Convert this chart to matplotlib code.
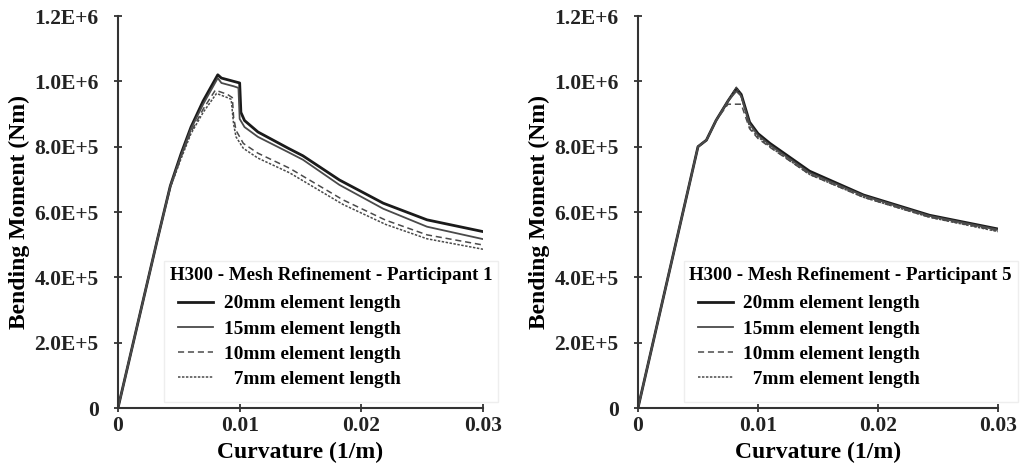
import matplotlib
matplotlib.use("Agg")
import matplotlib.pyplot as plt

plt.rcParams['font.family'] = ['Liberation Serif', 'DejaVu Serif']
plt.rcParams['font.weight'] = 'bold'

labels = ["20mm element length", "15mm element length", "10mm element length", "  7mm element length"]

# Participant 1
p1_x20 = [0, 0.0032, 0.0043, 0.0052, 0.0060, 0.0070, 0.0082, 0.0085, 0.0095, 0.0100, 0.0101, 0.0104, 0.0115, 0.0140, 0.0152, 0.0182, 0.0218, 0.0254, 0.0300]
p1_y20 = [0, 5.1e5, 6.8e5, 7.8e5, 8.6e5, 9.4e5, 1.02e6, 1.01e6, 1.0e6, 9.95e5, 9.05e5, 8.8e5, 8.45e5, 7.95e5, 7.72e5, 6.98e5, 6.27e5, 5.76e5, 5.40e5]
p1_x15 = [0, 0.0032, 0.0043, 0.0052, 0.0060, 0.0070, 0.0082, 0.0085, 0.0095, 0.0099, 0.0100, 0.0104, 0.0115, 0.0140, 0.0152, 0.0182, 0.0218, 0.0254, 0.0300]
p1_y15 = [0, 5.1e5, 6.8e5, 7.75e5, 8.55e5, 9.3e5, 1.01e6, 9.95e5, 9.85e5, 9.8e5, 8.85e5, 8.6e5, 8.3e5, 7.83e5, 7.6e5, 6.83e5, 6.1e5, 5.55e5, 5.17e5]
p1_x10 = [0, 0.0032, 0.0043, 0.0052, 0.0060, 0.0070, 0.0080, 0.0090, 0.0094, 0.0095, 0.0097, 0.0103, 0.0115, 0.0141, 0.0185, 0.0220, 0.0254, 0.0300]
p1_y10 = [0, 5.1e5, 6.75e5, 7.7e5, 8.45e5, 9.15e5, 9.73e5, 9.6e5, 9.5e5, 8.9e5, 8.5e5, 8.1e5, 7.8e5, 7.34e5, 6.37e5, 5.75e5, 5.3e5, 4.99e5]
p1_x7 = [0, 0.0032, 0.0043, 0.0052, 0.0060, 0.0070, 0.0081, 0.0090, 0.0093, 0.0095, 0.0097, 0.0103, 0.0115, 0.0141, 0.0185, 0.0220, 0.0254, 0.0300]
p1_y7 = [0, 5.1e5, 6.75e5, 7.65e5, 8.4e5, 9.05e5, 9.63e5, 9.5e5, 9.45e5, 8.7e5, 8.3e5, 7.95e5, 7.65e5, 7.2e5, 6.23e5, 5.62e5, 5.18e5, 4.86e5]

# Participant 5
p5_x20 = [0, 0.0050, 0.0057, 0.0065, 0.0075, 0.0082, 0.0086, 0.0093, 0.0100, 0.0110, 0.0143, 0.0188, 0.0243, 0.0300]
p5_y20 = [0, 8.0e5, 8.2e5, 8.8e5, 9.4e5, 9.78e5, 9.6e5, 8.75e5, 8.4e5, 8.1e5, 7.25e5, 6.52e5, 5.9e5, 5.48e5]
p5_x15 = [0, 0.0050, 0.0057, 0.0065, 0.0075, 0.0082, 0.0086, 0.0093, 0.0100, 0.0110, 0.0143, 0.0188, 0.0243, 0.0300]
p5_y15 = [0, 8.0e5, 8.2e5, 8.8e5, 9.4e5, 9.7e5, 9.55e5, 8.7e5, 8.35e5, 8.05e5, 7.2e5, 6.5e5, 5.88e5, 5.46e5]
p5_x10 = [0, 0.0050, 0.0057, 0.0065, 0.0075, 0.0086, 0.0093, 0.0100, 0.0110, 0.0143, 0.0188, 0.0243, 0.0300]
p5_y10 = [0, 8.0e5, 8.2e5, 8.8e5, 9.3e5, 9.3e5, 8.55e5, 8.25e5, 7.98e5, 7.15e5, 6.45e5, 5.84e5, 5.42e5]
p5_x7 = [0, 0.0050, 0.0057, 0.0065, 0.0075, 0.0082, 0.0086, 0.0093, 0.0100, 0.0110, 0.0143, 0.0188, 0.0243, 0.0300]
p5_y7 = [0, 8.0e5, 8.2e5, 8.8e5, 9.4e5, 9.82e5, 9.55e5, 8.6e5, 8.3e5, 8.0e5, 7.15e5, 6.45e5, 5.84e5, 5.4e5]

titles = ["H300 - Mesh Refinement - Participant 1", "H300 - Mesh Refinement - Participant 5"]
xticks = [0, 0.01, 0.02, 0.03]
xticklabels = ["0", "0.01", "0.02", "0.03"]
yticks = [0, 2e5, 4e5, 6e5, 8e5, 1e6, 1.2e6]
yticklabels = ["0", "2.0E+5", "4.0E+5", "6.0E+5", "8.0E+5", "1.0E+6", "1.2E+6"]

styles = [
    dict(color='#1a1a1a', lw=2.0, ls='-'),
    dict(color='#4a4a4a', lw=1.3, ls='-'),
    dict(color='#4a4a4a', lw=1.1, ls=(0, (4, 2.5))),
    dict(color='#4a4a4a', lw=1.1, ls=(0, (1.6, 1.0))),
]

fig = plt.figure(figsize=(10.22, 4.68), dpi=100)
axes = [fig.add_axes([118/1022, 60/468, 365/1022, 392/468]),
        fig.add_axes([638/1022, 60/468, 360/1022, 392/468])]

data = [
    [(p1_x20, p1_y20), (p1_x15, p1_y15), (p1_x10, p1_y10), (p1_x7, p1_y7)],
    [(p5_x20, p5_y20), (p5_x15, p5_y15), (p5_x10, p5_y10), (p5_x7, p5_y7)],
]

for ax, series, title in zip(axes, data, titles):
    for (x, y), st, lab in zip(series, styles, labels):
        ax.plot(x, y, label=lab, **st)
    ax.set_xlim(0, 0.03)
    ax.set_ylim(0, 1.2e6)
    ax.set_xticks(xticks)
    ax.set_xticklabels(xticklabels)
    ax.set_yticks(yticks)
    ax.set_yticklabels(yticklabels)
    ax.tick_params(labelsize=15.5, direction='inout', length=6, width=1.2, colors='#222222')
    ax.tick_params(axis='y', pad=11)
    ax.tick_params(axis='x', pad=3)
    for lab in ax.get_xticklabels() + ax.get_yticklabels():
        lab.set_fontweight('bold')
    for s in ['top', 'right']:
        ax.spines[s].set_visible(False)
    for s in ['left', 'bottom']:
        ax.spines[s].set_color('#333333')
        ax.spines[s].set_linewidth(1.5)
    ax.set_xlabel("Curvature (1/m)", fontsize=17, fontweight='bold', labelpad=4)
    ax.set_ylabel("Bending Moment (Nm)", fontsize=17, fontweight='bold', labelpad=3)
    leg = ax.legend(title=title, loc='lower left', bbox_to_anchor=(0.10, -0.01),
                    fontsize=13.9, title_fontproperties=dict(size=13.6, weight='bold'),
                    frameon=True, fancybox=False, edgecolor='#eeeeee', framealpha=1,
                    handlelength=1.8, handletextpad=0.55, labelspacing=0.4,
                    borderpad=0.3, alignment='left')
    leg._legend_box.sep = 2
    leg._legend_handle_box.pad = 6
    for t in leg.get_texts():
        t.set_fontweight('bold')

fig.savefig("out.png", dpi=100)
